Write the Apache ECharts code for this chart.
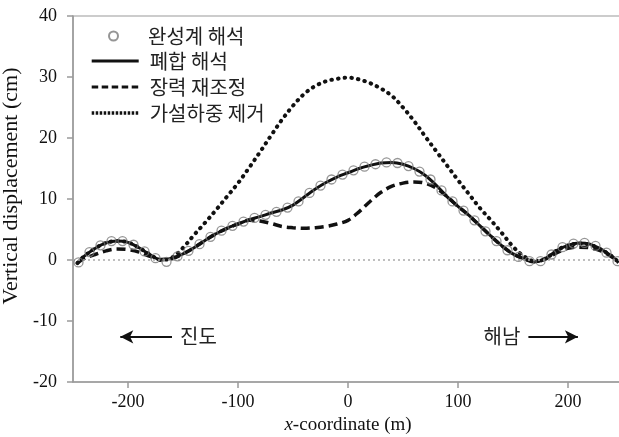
<!DOCTYPE html>
<html>
<head>
<meta charset="utf-8">
<script src="https://cdn.jsdelivr.net/npm/echarts@6/dist/echarts.min.js"></script>
<style>html,body{margin:0;padding:0;background:#fff}#c{width:619px;height:437px}</style>
</head>
<body>
<div id="c"></div>
<script>
// ---- data ----
const xs = [-246,-240,-230,-220,-210,-200,-190,-180,-170,-160,-150,-140,-130,-120,-110,-100,-90,-80,-70,-60,-50,-40,-30,-20,-10,0,10,20,30,40,50,60,70,80,90,100,110,120,130,140,150,160,170,180,190,200,210,220,230,240,246];
const closedY = [-0.5,0.6,1.9,2.8,3.1,2.9,2.0,0.9,0.0,0.3,1.0,2.0,3.2,4.3,5.2,5.9,6.6,7.1,7.7,8.2,9.0,10.3,11.6,12.7,13.6,14.3,15.0,15.5,15.9,16.0,15.7,15.0,13.9,12.3,10.4,8.8,7.3,5.6,3.9,2.3,1.0,0.2,-0.3,0.3,1.6,2.4,2.8,2.6,1.8,0.6,-0.4];
const retensionY = [-0.5,0.2,0.9,1.5,1.8,1.7,1.3,0.6,0.1,0.2,1.0,2.0,3.2,4.3,5.2,5.9,6.5,6.4,6.0,5.5,5.3,5.2,5.3,5.5,5.9,6.5,7.9,9.6,11.1,12.1,12.6,12.8,12.6,11.8,10.4,8.8,7.3,5.6,3.9,2.3,1.0,0.2,-0.3,0.2,1.2,1.9,2.1,2.0,1.5,0.5,-0.4];
const removalY = [-0.5,0.6,1.9,2.8,3.1,2.9,2.0,0.9,0.0,0.4,2.0,4.1,6.1,8.2,10.4,12.6,15.1,17.7,20.4,23.0,25.3,27.2,28.5,29.3,29.7,29.9,29.6,29.0,28.1,26.9,25.0,22.8,20.3,17.9,15.5,13.1,10.8,8.5,6.5,4.4,2.2,0.6,-0.2,0.3,1.6,2.4,2.7,2.5,1.7,0.6,-0.4];
const circleX = [-245,-235,-225,-215,-205,-195,-185,-175,-165,-155,-145,-135,-125,-115,-105,-95,-85,-75,-65,-55,-45,-35,-25,-15,-5,5,15,25,35,45,55,65,75,85,95,105,115,125,135,145,155,165,175,185,195,205,215,225,235,245];
const circleY = [-0.4,1.3,2.4,3.1,3.1,2.5,1.4,0.3,-0.3,0.6,1.5,2.6,3.8,4.8,5.6,6.3,6.9,7.4,7.9,8.6,9.6,11.0,12.2,13.2,14.0,14.7,15.3,15.7,16.0,15.9,15.4,14.5,13.2,11.4,9.6,8.1,6.5,4.7,3.1,1.6,0.5,-0.2,-0.2,0.9,2.1,2.7,2.8,2.3,1.2,-0.2];
const seriesNames = ['완성계 해석','폐합 해석','장력 재조정','가설하중 제거'];
const xTicks = [-200,-100,0,100,200];
const arrowLeft = {from:[-160,-12.6], to:[-207,-12.6], text:'진도'};
const arrowRight = {from:[164,-12.6], to:[209,-12.6], text:'해남'};

const pairs = (xa, ya) => xa.map((x,i)=>[x, ya[i]]);
const serif = '"Liberation Serif","Times New Roman",serif';
const kr = '"Noto Sans CJK KR","Noto Sans",sans-serif';
const axisGray = '#9a9a9a';
const hidden = {color:'rgba(0,0,0,0)', borderWidth:0, opacity:0};

const chart = echarts.init(document.getElementById('c'), null, {renderer:'canvas'});
chart.setOption({
  animation:false,
  backgroundColor:'#fff',
  grid:{left:73, top:16, right:-4, bottom:55, show:true, borderColor:axisGray, borderWidth:1.2, outerBoundsMode:'none'},
  legend:[
    {data:[seriesNames[0]], orient:'vertical', left:108, top:26, padding:0,
     itemWidth:9, itemHeight:9, selectedMode:false,
     textStyle:{fontFamily:kr, fontSize:20, lineHeight:20, color:'#222', padding:[0,0,0,25]}},
    {data:[
       {name:seriesNames[1], itemStyle:hidden, lineStyle:{width:3.2, color:'#111'}},
       {name:seriesNames[2], itemStyle:hidden, lineStyle:{width:3.2, color:'#111', type:[6.5,3.5]}},
       {name:seriesNames[3], itemStyle:hidden, lineStyle:{width:3.4, color:'#111', type:[2.5,1.5], cap:'butt'}}
     ], orient:'vertical', left:90, top:51, padding:0,
     itemWidth:47, itemHeight:14, itemGap:6, selectedMode:false, itemStyle:hidden,
     textStyle:{fontFamily:kr, fontSize:20, lineHeight:20, color:'#222', padding:[0,0,0,6]}}
  ],
  xAxis:{type:'value', min:-250, max:250,
    name:'{i|x}-coordinate (m)', nameLocation:'middle', nameGap:31,
    nameTextStyle:{fontFamily:serif, fontSize:19, color:'#111', rich:{i:{fontFamily:serif, fontSize:19, fontStyle:'italic', color:'#111'}}},
    axisLine:{onZero:false, lineStyle:{color:axisGray, width:1.5}},
    axisTick:{show:true, length:6, lineStyle:{color:axisGray, width:1.5}, customValues:xTicks},
    axisLabel:{customValues:xTicks, fontFamily:serif, fontSize:18, color:'#111', margin:11},
    splitLine:{show:false}},
  yAxis:{type:'value', min:-20, max:40, interval:10,
    name:'Vertical displacement (cm)', nameLocation:'middle', nameRotate:90, nameGap:47,
    nameTextStyle:{fontFamily:serif, fontSize:22, color:'#111', padding:[0,0,0,26]},
    axisLine:{show:true, onZero:false, lineStyle:{color:axisGray, width:1.5}},
    axisTick:{show:true, length:6, lineStyle:{color:axisGray, width:1.5}},
    axisLabel:{fontFamily:serif, fontSize:18, color:'#111', margin:16},
    splitLine:{show:false}},
  series:[
    {name:seriesNames[1], type:'line', data:pairs(xs, closedY), smooth:0.35, symbol:'none', z:3,
     lineStyle:{color:'#111', width:3}, itemStyle:{color:'#111'},
     markLine:{silent:true, symbol:['none','none'], label:{show:false},
       lineStyle:{color:'#aaa', width:1.5, type:[2,3]},
       data:[{yAxis:0}]}},
    {name:seriesNames[2], type:'line', data:pairs(xs, retensionY), smooth:0.35, symbol:'none', z:3,
     lineStyle:{color:'#111', width:3.5, type:[9,5]}, itemStyle:{color:'#111'}},
    {name:seriesNames[3], type:'line', data:pairs(xs, removalY), smooth:0.35, symbol:'none', z:3,
     lineStyle:{color:'#111', width:4, type:[0.5,6.2], cap:'round'}, itemStyle:{color:'#111'},
     markLine:{silent:true, symbol:['none','arrow'], symbolSize:[10,13],
       lineStyle:{color:'#111', width:2, type:'solid'},
       label:{show:true, position:'start', distance:8, fontFamily:kr, fontSize:20, color:'#222'},
       data:[
         [{coord:arrowLeft.from, name:arrowLeft.text}, {coord:arrowLeft.to}],
         [{coord:arrowRight.from, name:arrowRight.text}, {coord:arrowRight.to}]
       ]}},
    {name:seriesNames[0], type:'scatter', data:pairs(circleX, circleY), symbol:'circle', symbolSize:9, z:5,
     itemStyle:{color:'rgba(255,255,255,0)', borderColor:'#7a7a7a', borderWidth:1.3}}
  ]
});
</script>
</body>
</html>
